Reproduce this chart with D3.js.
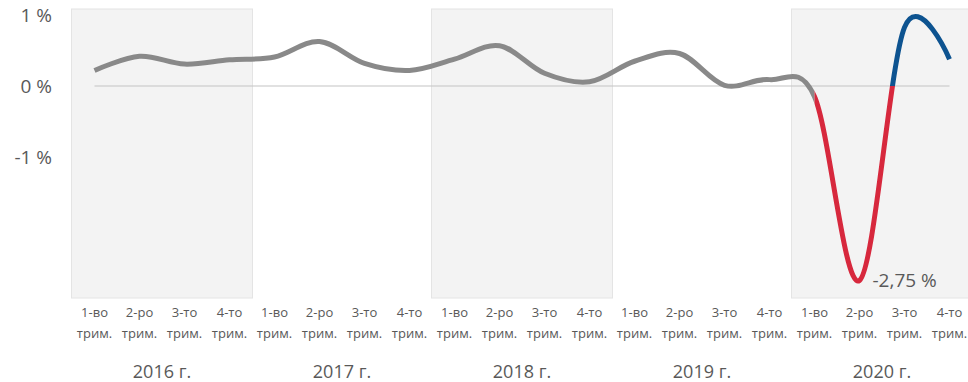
<!DOCTYPE html>
<html>
<head>
<meta charset="utf-8">
<script src="https://cdn.jsdelivr.net/npm/d3@7"></script>
<style>
  html, body { margin: 0; padding: 0; background: #fff; }
  text { font-family: "Open Sans", "Noto Sans", sans-serif; fill: #595959; }
</style>
</head>
<body>
<svg id="chart" width="968" height="382"></svg>
<script>
// Quarterly growth, %
const years = ["2016 г.", "2017 г.", "2018 г.", "2019 г.", "2020 г."];
const quarterTop = ["1-во", "2-ро", "3-то", "4-то"];
const quarterBottom = "трим.";
const values = [
  0.22, 0.42, 0.31, 0.37,
  0.41, 0.63, 0.32, 0.22,
  0.38, 0.57, 0.18, 0.06,
  0.35, 0.46, 0.01, 0.09,
  -0.15, -2.75, 0.83, 0.38
];
const yTicks = [1, 0, -1];
const shadedYears = ["2016 г.", "2018 г.", "2020 г."];
const calloutIndex = 17;
const calloutText = "-2,75 %";

const svg = d3.select("#chart");
const W = 968, H = 382;
const plotLeft = 72, plotRight = 972, plotTop = 9, plotBottom = 298;

const keys = values.map((v, i) => i);
const x = d3.scaleBand().domain(keys).range([plotLeft, plotRight]);
const xc = i => x(i) + x.bandwidth() / 2;
const xYear = d3.scaleBand().domain(years).range([plotLeft, plotRight]);
const y = d3.scaleLinear().domain([-1, 1]).range([156.7, 15.3]);

// alternating year shading
svg.append("g").selectAll("rect")
  .data(shadedYears)
  .join("rect")
  .attr("x", d => xYear(d) - 0.5)
  .attr("y", plotTop)
  .attr("width", d => xYear.bandwidth() + 1)
  .attr("height", plotBottom - plotTop)
  .attr("fill", "#f3f3f3")
  .attr("stroke", "#e4e4e4")
  .attr("stroke-width", 1);

// zero line
svg.append("line")
  .attr("x1", xc(0)).attr("x2", xc(values.length - 1))
  .attr("y1", y(0)).attr("y2", y(0))
  .attr("stroke", "#c4c4c4").attr("stroke-width", 1.2);

// y labels
svg.append("g").selectAll("text")
  .data(yTicks)
  .join("text")
  .attr("x", 52)
  .attr("y", d => y(d) + 7)
  .attr("text-anchor", "end")
  .attr("font-size", 19)
  .text(d => d + " %");

// x labels: quarters
const ql = svg.append("g").selectAll("g")
  .data(keys)
  .join("g")
  .attr("transform", i => `translate(${xc(i)},0)`);
ql.append("text")
  .attr("y", 317).attr("text-anchor", "middle").attr("font-size", 13)
  .text(i => quarterTop[i % 4]);
ql.append("text")
  .attr("y", 338).attr("text-anchor", "middle").attr("font-size", 13)
  .text(quarterBottom);

// x labels: years
svg.append("g").selectAll("text")
  .data(years)
  .join("text")
  .attr("x", d => xYear(d) + xYear.bandwidth() / 2)
  .attr("y", 378)
  .attr("text-anchor", "middle")
  .attr("font-size", 18)
  .text(d => d);

// smoothed line, coloured by period and sign
const line = d3.line()
  .x((d, i) => xc(i))
  .y(d => y(d))
  .curve(d3.curveCatmullRom.alpha(0));
const pathD = line(values);
const split = xc(16);

const defs = svg.append("defs");
defs.append("clipPath").attr("id", "clip-pre")
  .append("rect").attr("x", 0).attr("y", 0).attr("width", split).attr("height", H);
defs.append("clipPath").attr("id", "clip-neg")
  .append("rect").attr("x", split).attr("y", y(0)).attr("width", W - split).attr("height", H - y(0));
defs.append("clipPath").attr("id", "clip-pos")
  .append("rect").attr("x", split).attr("y", 0).attr("width", W - split).attr("height", y(0));

[["clip-pre", "#898989"], ["clip-neg", "#d7283d"], ["clip-pos", "#0d5390"]].forEach(([id, col]) => {
  svg.append("path")
    .attr("d", pathD)
    .attr("fill", "none")
    .attr("stroke", col)
    .attr("stroke-width", 5)
    .attr("stroke-linejoin", "round")
    .attr("clip-path", `url(#${id})`);
});

// callout for the minimum
svg.append("text")
  .attr("x", xc(calloutIndex) + 13)
  .attr("y", y(values[calloutIndex]) + 7)
  .attr("font-size", 19)
  .text(calloutText);
</script>
</body>
</html>
